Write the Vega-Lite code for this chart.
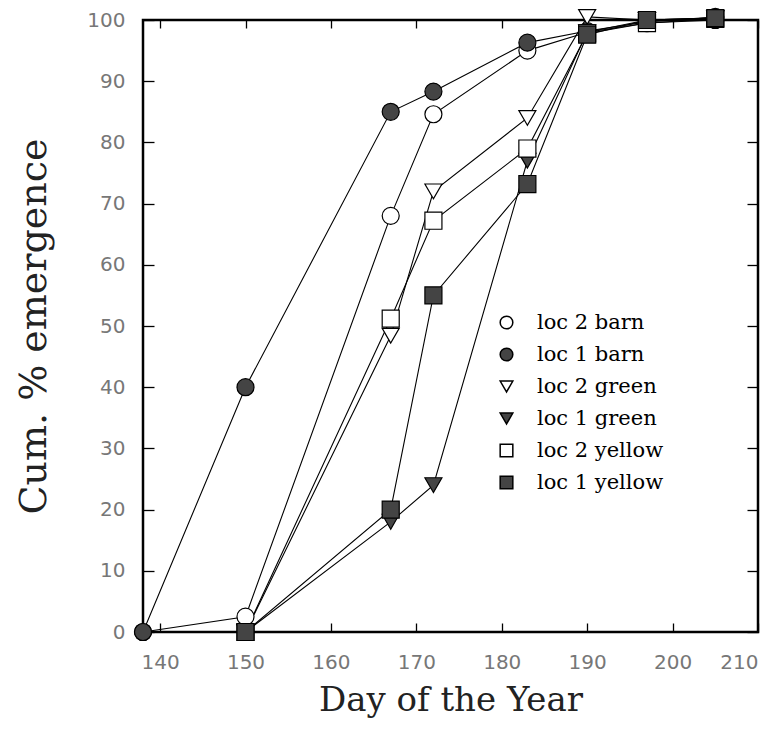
{
  "$schema": "https://vega.github.io/schema/vega-lite/v6.json",
  "autosize": "none",
  "width": 615,
  "height": 612,
  "padding": {"left": 143, "top": 20, "right": 23, "bottom": 106},
  "background": "white",
  "config": {
    "view": {"stroke": "black", "strokeWidth": 2.5},
    "axis": {"grid": false, "domain": false, "tickColor": "black", "tickWidth": 1.3,
      "labelFont": "DejaVu Sans", "labelFontSize": 20, "labelColor": "#777", "labelFontWeight": "normal",
      "titleFont": "DejaVu Serif", "titleFontWeight": "normal", "titleColor": "#222"}
  },
  "data": {"values": [
    {"series": "loc 2 barn", "day": 138, "pct": 0},
    {"series": "loc 2 barn", "day": 150, "pct": 2.5},
    {"series": "loc 2 barn", "day": 167, "pct": 68},
    {"series": "loc 2 barn", "day": 172, "pct": 84.6},
    {"series": "loc 2 barn", "day": 183, "pct": 95},
    {"series": "loc 2 barn", "day": 190, "pct": 98},
    {"series": "loc 2 barn", "day": 197, "pct": 99.5},
    {"series": "loc 2 barn", "day": 205, "pct": 100},
    {"series": "loc 1 barn", "day": 138, "pct": 0},
    {"series": "loc 1 barn", "day": 150, "pct": 40},
    {"series": "loc 1 barn", "day": 167, "pct": 85},
    {"series": "loc 1 barn", "day": 172, "pct": 88.3},
    {"series": "loc 1 barn", "day": 183, "pct": 96.3},
    {"series": "loc 1 barn", "day": 190, "pct": 98.2},
    {"series": "loc 1 barn", "day": 197, "pct": 99.7},
    {"series": "loc 1 barn", "day": 205, "pct": 100.5},
    {"series": "loc 2 green", "day": 150, "pct": 0},
    {"series": "loc 2 green", "day": 167, "pct": 48.4},
    {"series": "loc 2 green", "day": 172, "pct": 72},
    {"series": "loc 2 green", "day": 183, "pct": 84},
    {"series": "loc 2 green", "day": 190, "pct": 100.5},
    {"series": "loc 2 green", "day": 197, "pct": 100},
    {"series": "loc 2 green", "day": 205, "pct": 100.3},
    {"series": "loc 1 green", "day": 150, "pct": 0},
    {"series": "loc 1 green", "day": 167, "pct": 18},
    {"series": "loc 1 green", "day": 172, "pct": 24},
    {"series": "loc 1 green", "day": 183, "pct": 77},
    {"series": "loc 1 green", "day": 190, "pct": 98},
    {"series": "loc 1 green", "day": 197, "pct": 100},
    {"series": "loc 1 green", "day": 205, "pct": 100.3},
    {"series": "loc 2 yellow", "day": 150, "pct": 0},
    {"series": "loc 2 yellow", "day": 167, "pct": 51.2},
    {"series": "loc 2 yellow", "day": 172, "pct": 67.2},
    {"series": "loc 2 yellow", "day": 183, "pct": 79},
    {"series": "loc 2 yellow", "day": 190, "pct": 97.8},
    {"series": "loc 2 yellow", "day": 197, "pct": 99.5},
    {"series": "loc 2 yellow", "day": 205, "pct": 100.2},
    {"series": "loc 1 yellow", "day": 150, "pct": 0},
    {"series": "loc 1 yellow", "day": 167, "pct": 20},
    {"series": "loc 1 yellow", "day": 172, "pct": 55},
    {"series": "loc 1 yellow", "day": 183, "pct": 73.2},
    {"series": "loc 1 yellow", "day": 190, "pct": 97.6},
    {"series": "loc 1 yellow", "day": 197, "pct": 100},
    {"series": "loc 1 yellow", "day": 205, "pct": 100.3}
  ]},
  "resolve": {"axis": {"x": "independent", "y": "independent"}},
  "layer": [
    {
      "mark": {"type": "line", "color": "black", "strokeWidth": 1.1},
      "encoding": {
        "x": {"field": "day", "type": "quantitative", "scale": {"domain": [138, 210], "nice": false, "zero": false},
          "axis": {"orient": "bottom", "values": [140, 150, 160, 170, 180, 190, 200, 210], "tickSize": -9, "labelPadding": 29, "title": "Day of the Year", "titleFontSize": 34, "titlePadding": 11}},
        "y": {"field": "pct", "type": "quantitative", "scale": {"domain": [0, 100], "nice": false},
          "axis": {"orient": "left", "values": [0, 10, 20, 30, 40, 50, 60, 70, 80, 90, 100], "tickSize": -11, "labelPadding": 29, "title": "Cum. % emergence", "titleFontSize": 38, "titlePadding": 33}},
        "detail": {"field": "series"}
      }
    },
    {
      "mark": {"type": "point", "filled": true, "stroke": "black", "strokeWidth": 1.2, "size": 290, "opacity": 1},
      "encoding": {
        "x": {"field": "day", "type": "quantitative",
          "axis": {"orient": "top", "values": [140, 150, 160, 170, 180, 190, 200, 210], "tickSize": -8, "labels": false, "title": null}},
        "y": {"field": "pct", "type": "quantitative",
          "axis": {"orient": "right", "values": [0, 10, 20, 30, 40, 50, 60, 70, 80, 90, 100], "tickSize": -11, "labels": false, "title": null}},
        "shape": {"field": "series", "type": "nominal",
          "scale": {"domain": ["loc 2 barn", "loc 1 barn", "loc 2 green", "loc 1 green", "loc 2 yellow", "loc 1 yellow"],
            "range": ["circle", "circle", "triangle-down", "triangle-down", "square", "square"]},
          "legend": {"title": null, "orient": "none", "legendX": 353, "legendY": 292,
            "labelFont": "DejaVu Serif", "labelFontSize": 21, "labelColor": "black", "symbolSize": 160,
            "rowPadding": 10, "labelOffset": 20,
            "encode": {"symbols": {"update": {"stroke": {"value": "black"}, "strokeWidth": {"value": 1.2}}}}}},
        "fill": {"field": "series", "type": "nominal",
          "scale": {"domain": ["loc 2 barn", "loc 1 barn", "loc 2 green", "loc 1 green", "loc 2 yellow", "loc 1 yellow"],
            "range": ["white", "#444", "white", "#444", "white", "#444"]},
          "legend": {"title": null, "orient": "none", "legendX": 353, "legendY": 292,
            "labelFont": "DejaVu Serif", "labelFontSize": 21, "labelColor": "black", "symbolSize": 160,
            "rowPadding": 10, "labelOffset": 20,
            "encode": {"symbols": {"update": {"stroke": {"value": "black"}, "strokeWidth": {"value": 1.2}}}}}}
      }
    }
  ]
}
